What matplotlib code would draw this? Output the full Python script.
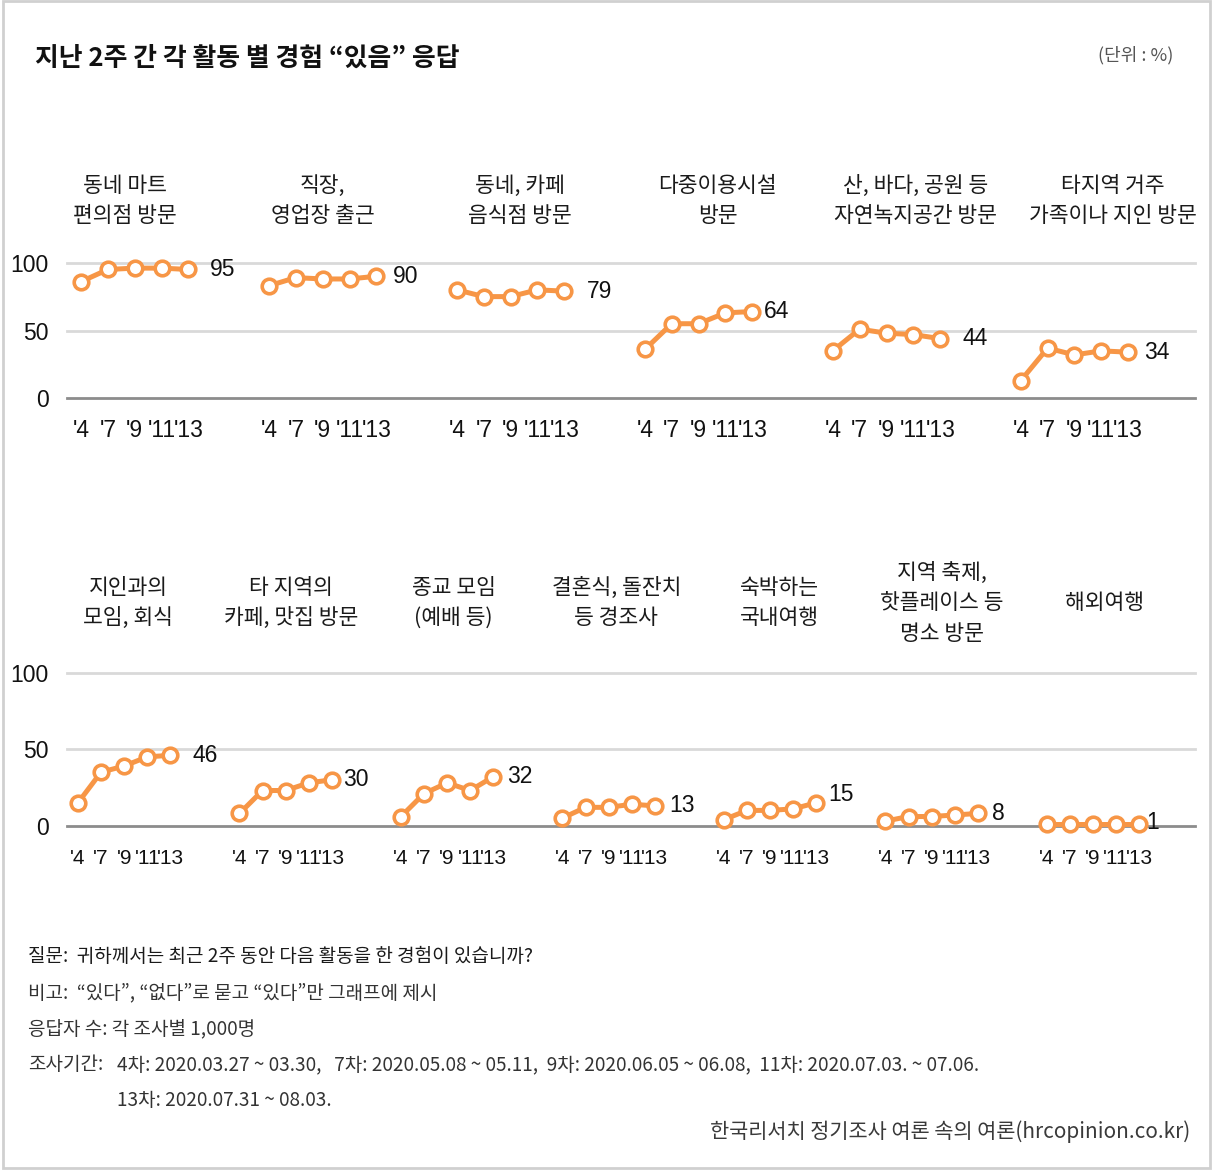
import matplotlib
matplotlib.use("Agg")
import matplotlib.pyplot as plt
from matplotlib.patches import Rectangle

plt.rcParams['font.family'] = ['Noto Sans CJK KR', 'DejaVu Sans']

# ---------------- data ----------------
waves = ["'4", "'7", "'9", "'11", "'13"]

top_titles = ["동네 마트\n편의점 방문", "직장,\n영업장 출근", "동네, 카페\n음식점 방문",
              "다중이용시설\n방문", "산, 바다, 공원 등\n자연녹지공간 방문", "타지역 거주\n가족이나 지인 방문"]
top_values = [
    [86, 95, 96, 96, 95],
    [83, 89, 88, 88, 90],
    [80, 75, 75, 80, 79],
    [36, 55, 55, 63, 64],
    [35, 51, 48, 47, 44],
    [13, 37, 32, 35, 34],
]

bottom_titles = ["지인과의\n모임, 회식", "타 지역의\n카페, 맛집 방문", "종교 모임\n(예배 등)",
                 "결혼식, 돌잔치\n등 경조사", "숙박하는\n국내여행", "지역 축제,\n핫플레이스 등\n명소 방문", "해외여행"]
bottom_values = [
    [15, 35, 39, 45, 46],
    [8, 23, 23, 28, 30],
    [6, 21, 28, 23, 32],
    [5, 12, 12, 14, 13],
    [4, 10, 10, 11, 15],
    [3, 6, 6, 7, 8],
    [1, 1, 1, 1, 1],
]
yticks = [0, 50, 100]

# label offsets in pixels (style)
top_label_dx = [34, 29, 35, 24, 35, 29]
top_label_dy = [0, 0, 0, 0, 0, 0]
bottom_label_dx = [35, 24, 27, 27, 25, 21, 13]
bottom_label_dy = [0, 0, 0, 0, 8, 0, 2]

# ---------------- figure ----------------
W, H = 1213, 1171
fig = plt.figure(figsize=(W / 100, H / 100), dpi=100)
fig.patch.set_facecolor('white')

ORANGE = '#F79646'
PT = 0.72  # points per pixel at 100 dpi
NUMFONT = ['Liberation Sans', 'DejaVu Sans']


def fx(x):
    return x / W


def fy(y):
    return 1 - y / H


def make_row(y_top, y_bot, x0_px, unit_px, titles, values, dxs, dys, title_x0, title_step, title_y,
             xfs, xpad):
    left, right = 67, 1195
    ax = fig.add_axes([fx(left), fy(y_bot), (right - left) / W, (y_bot - y_top) / H])
    ax.set_ylim(0, 100)
    ax.set_xlim((left - x0_px) / unit_px, (right - x0_px) / unit_px)
    for s in ax.spines.values():
        s.set_visible(False)
    ax.set_facecolor('none')
    ax.axhline(100, color='#d9d9d9', lw=2, zorder=1, clip_on=False)
    ax.axhline(50, color='#d9d9d9', lw=2, zorder=1, clip_on=False)
    ax.axhline(0, color='#8c8c8c', lw=2, zorder=1, clip_on=False)
    ax.set_yticks(yticks)
    ax.set_yticklabels([str(v) for v in yticks], family=NUMFONT)
    ax.tick_params(axis='y', length=0, pad=13, labelsize=16.5, labelcolor='#111111')
    xt, xl = [], []
    for p, vals in enumerate(values):
        xs = [p * 7 + i for i in range(len(vals))]
        xt += xs
        xl += waves
        ax.plot(xs, vals, color=ORANGE, lw=3.6, marker='o', markersize=10.5,
                markerfacecolor='white', markeredgecolor=ORANGE, markeredgewidth=2.6,
                zorder=3, clip_on=False)
        ax.annotate(str(vals[-1]), (xs[-1], vals[-1]),
                    xytext=(dxs[p] * PT, dys[p] * PT), textcoords='offset points',
                    ha='center', va='center', fontsize=16.5, color='#111111',
                    family=NUMFONT)
    ax.set_xticks(xt)
    ax.set_xticklabels(xl, family=NUMFONT)
    ax.tick_params(axis='x', length=0, pad=xpad, labelsize=xfs, labelcolor='#111111')
    for p, t in enumerate(titles):
        fig.text(fx(title_x0 + title_step * p), fy(title_y), t, ha='center', va='center',
                 fontsize=15.5, color='#1a1a1a', linespacing=1.5)
    return ax


make_row(262.7, 398.3, 81, 26.85, top_titles, top_values, top_label_dx, top_label_dy,
         125, 197.6, 201, 16.5, 15)
make_row(672.7, 825.7, 78, 23.07, bottom_titles, bottom_values, bottom_label_dx, bottom_label_dy,
         128, 162.8, 603, 15, 16.5)

# title and unit
fig.text(fx(35), fy(58), '지난 2주 간 각 활동 별 경험 “있음” 응답', ha='left', va='center',
         fontsize=18.6, fontweight='bold', color='#111111')
fig.text(fx(1173), fy(55), '(단위 : %)', ha='right', va='center', fontsize=13, color='#555555')

# footer
foot_c = '#333333'
FS = 13.7
fig.text(fx(28), fy(957), '질문:  귀하께서는 최근 2주 동안 다음 활동을 한 경험이 있습니까?',
         ha='left', va='center', fontsize=FS, color='#1a1a1a', fontweight='medium')
fig.text(fx(28), fy(993), '비고:  “있다”, “없다”로 묻고 “있다”만 그래프에 제시',
         ha='left', va='center', fontsize=FS, color=foot_c)
fig.text(fx(28), fy(1029), '응답자 수: 각 조사별 1,000명',
         ha='left', va='center', fontsize=FS, color=foot_c)
fig.text(fx(28), fy(1065), '조사기간:', ha='left', va='center', fontsize=FS, color=foot_c)
fig.text(fx(117), fy(1065),
         '4차: 2020.03.27 ~ 03.30,   7차: 2020.05.08 ~ 05.11,  9차: 2020.06.05 ~ 06.08,  11차: 2020.07.03. ~ 07.06.',
         ha='left', va='center', fontsize=FS, color=foot_c)
fig.text(fx(117), fy(1101), '13차: 2020.07.31 ~ 08.03.',
         ha='left', va='center', fontsize=FS, color=foot_c)
fig.text(fx(1190), fy(1132), '한국리서치 정기조사 여론 속의 여론(hrcopinion.co.kr)',
         ha='right', va='center', fontsize=15, color='#3a3a3a', fontweight='medium')

# frame
fig.patches.append(Rectangle((fx(3), fy(1168)), (1210 - 3) / W, (1168 - 1) / H,
                             transform=fig.transFigure, fill=False, edgecolor='#d0d0d0', lw=2))

fig.savefig('out.png', dpi=100)
